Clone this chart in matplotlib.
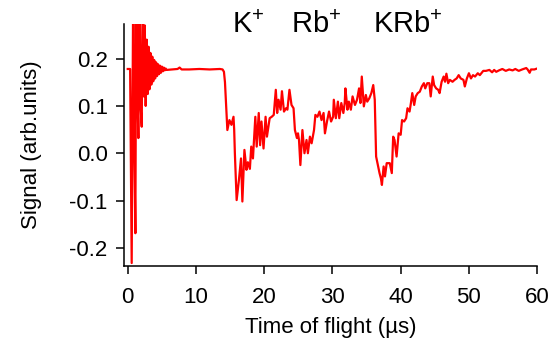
import numpy as np
import matplotlib
matplotlib.use("Agg")
import matplotlib.pyplot as plt

plt.rcParams['font.family'] = ['Liberation Sans', 'DejaVu Sans']
plt.rcParams['axes.unicode_minus'] = False
plt.rcParams['mathtext.fontset'] = 'custom'
plt.rcParams['mathtext.rm'] = 'Liberation Sans'
plt.rcParams['mathtext.it'] = 'Liberation Sans'

# time of flight (us) and signal (arb. units)
tof = [0.0, 0.35, 0.45, 0.58, 0.70, 0.82, 0.97, 1.12, 1.25, 1.4, 1.56, 1.72, 1.88, 2.05,
       2.2, 2.35, 2.5, 2.63, 2.78, 2.92, 3.05, 3.18, 3.32, 3.46, 3.6, 3.74, 3.88, 4.02,
       4.16, 4.3, 4.44, 4.58, 4.72, 4.86, 5.0, 5.14, 5.28, 5.42, 5.56, 5.7,
       6.5, 7.3, 7.6, 7.9, 9.0, 10.5, 12.0, 13.5, 13.9, 14.1,
       14.25, 14.45, 14.6, 14.75, 14.9, 15.2, 15.5, 15.6, 15.7, 15.96, 16.3, 16.6, 16.8,
       17.1, 17.4, 17.6, 17.9, 18.1, 18.35, 18.7, 18.9, 19.2, 19.4, 19.6, 19.9, 20.2,
       20.4, 20.8, 21.1, 21.4, 21.7, 21.9, 22.1, 22.4, 22.6, 22.9, 23.2, 23.4, 23.7,
       24.0, 24.3, 24.5, 24.8, 24.95, 25.1, 25.3, 25.6, 25.9, 26.2, 26.4, 26.7, 26.95,
       27.3, 27.5, 27.8, 28.1, 28.4, 28.7, 28.9, 29.2, 29.5, 29.8, 30.1, 30.2, 30.5,
       30.8, 31.0, 31.3, 31.6, 31.8, 31.9, 32.2, 32.4, 32.7, 32.95, 33.3, 33.6, 33.9,
       34.1, 34.3, 34.6, 34.9, 35.1, 35.4, 35.7, 35.98, 36.2, 36.4, 36.6, 36.9, 37.1,
       37.25, 37.5, 37.7, 37.95, 38.4, 38.7, 38.9, 39.1, 39.4, 39.7, 40.0, 40.2, 40.5,
       40.8, 41.0, 41.3, 41.5, 41.7, 41.98, 42.2, 42.5, 42.8, 43.1, 43.4, 43.6, 43.9,
       44.2, 44.4, 44.7, 44.9, 45.2, 45.5, 45.7, 46.0, 46.3, 46.5, 46.7, 46.96, 47.2,
       47.6, 47.9, 48.2, 48.5, 48.8, 49.2, 49.4, 49.7, 50.0, 50.3, 50.6, 50.9, 51.3,
       51.6, 52.1, 52.5, 53.0, 53.4, 53.7, 54.0, 54.4, 54.9, 55.4, 55.9, 56.4, 56.8,
       57.3, 57.8, 58.4, 58.6, 58.9, 59.1, 59.6, 60.0]
signal = [0.178, 0.178, 0.0, -0.232, 0.1, 0.40, 0.0, -0.169, 0.40, 0.15, 0.032, 0.40, 0.10, 0.056,
          0.35, 0.12, 0.27, 0.10, 0.24, 0.125, 0.225, 0.135, 0.212, 0.145, 0.204, 0.152, 0.197, 0.158,
          0.192, 0.163, 0.188, 0.167, 0.185, 0.170, 0.183, 0.173, 0.181, 0.175, 0.179, 0.176,
          0.177, 0.178, 0.181, 0.177, 0.177, 0.178, 0.177, 0.178, 0.177, 0.172,
          0.15, 0.09, 0.049, 0.06, 0.070, 0.060, 0.077, 0.05, 0.0, -0.099, -0.056, -0.011, -0.102,
          0.007, -0.035, -0.019, -0.033, 0.014, -0.011, 0.077, 0.014, 0.085, 0.017, 0.067, 0.010, 0.077,
          0.035, 0.074, 0.077, 0.081, 0.134, 0.085, 0.113, 0.092, 0.131, 0.088, 0.095, 0.092, 0.134,
          0.102, 0.095, 0.049, 0.032, 0.042, 0.028, -0.025, 0.049, 0.0, 0.028, 0.0, 0.035, 0.021,
          0.049, 0.081, 0.077, 0.088, 0.070, 0.085, 0.042, 0.067, 0.088, 0.067, 0.077, 0.113, 0.074,
          0.109, 0.074, 0.106, 0.085, 0.106, 0.137, 0.092, 0.109, 0.092, 0.120, 0.102, 0.113, 0.137,
          0.106, 0.162, 0.099, 0.123, 0.109, 0.116, 0.127, 0.144, 0.113, -0.007, -0.021, -0.042, -0.053,
          -0.067, -0.028, -0.049, -0.021, -0.021, -0.042, 0.035, 0.028, -0.007, 0.042, 0.039, 0.070, 0.067,
          0.074, 0.095, 0.088, 0.106, 0.127, 0.102, 0.120, 0.127, 0.130, 0.141, 0.148, 0.137, 0.148,
          0.148, 0.120, 0.162, 0.144, 0.137, 0.134, 0.127, 0.151, 0.162, 0.151, 0.168, 0.148, 0.155,
          0.151, 0.155, 0.158, 0.165, 0.158, 0.155, 0.141, 0.158, 0.169, 0.158, 0.165, 0.162, 0.169,
          0.165, 0.174, 0.174, 0.176, 0.171, 0.176, 0.172, 0.175, 0.178, 0.174, 0.177, 0.175, 0.178,
          0.174, 0.177, 0.180, 0.177, 0.170, 0.177, 0.177, 0.179]

ion_labels = [r"K$^{+}$", r"Rb$^{+}$", r"KRb$^{+}$"]
ion_tof = [17.6, 27.6, 41.0]

fig = plt.figure(figsize=(5.56, 3.45), dpi=100)
ax = fig.add_axes([0.2236, 0.2299, 0.7425, 0.7005])

ax.plot(tof, signal, color="#ff0000", linewidth=1.6)

for lab, t in zip(ion_labels, ion_tof):
    ax.text(t, 0.254, lab, fontsize=21, ha="center", va="baseline", clip_on=False)

ax.set_xlim(-0.5, 60)
ax.set_ylim(-0.2376, 0.273)
ax.set_xticks([0, 10, 20, 30, 40, 50, 60])
ax.set_yticks([-0.2, -0.1, 0.0, 0.1, 0.2])
ax.set_yticklabels(["-0.2", "-0.1", "0.0", "0.1", "0.2"])

for s in ["top", "right"]:
    ax.spines[s].set_visible(False)
for s in ["left", "bottom"]:
    ax.spines[s].set_linewidth(1.1)
ax.tick_params(direction="out", length=6, width=1.1, labelsize=16, colors="black")
ax.tick_params(axis="x", pad=9)
ax.tick_params(axis="y", pad=6)

ax.set_xlabel("Time of flight (\u00b5s)", fontsize=16)
ax.set_ylabel("Signal (arb.units)", fontsize=16)
ax.xaxis.set_label_coords(0.5, -0.212)
ax.yaxis.set_label_coords(-0.199, 0.5)

fig.savefig("out.png", dpi=100)
